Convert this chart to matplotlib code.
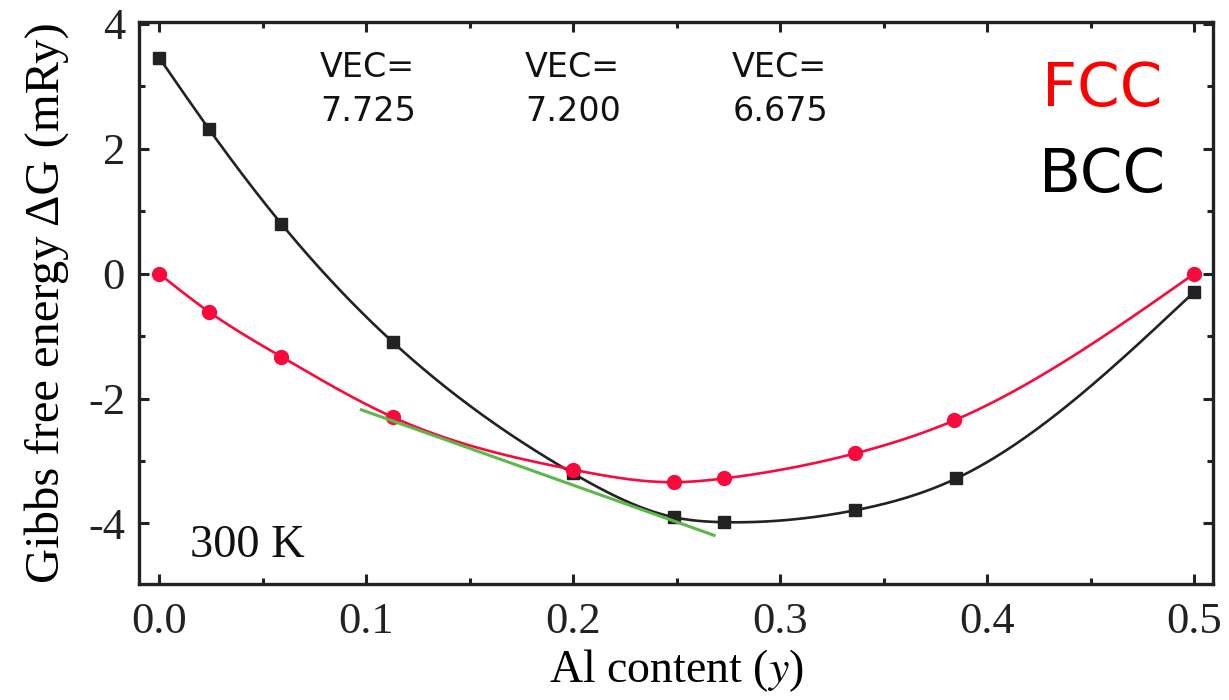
import numpy as np
import matplotlib
matplotlib.use("Agg")
import matplotlib.pyplot as plt
from matplotlib.ticker import MultipleLocator, FormatStrFormatter

# ---- data ----
fcc_x = [0.0, 0.024, 0.059, 0.113, 0.200, 0.2485, 0.2727, 0.336, 0.384, 0.500]
fcc_g = [0.0, -0.61, -1.33, -2.30, -3.14, -3.34, -3.28, -2.88, -2.35, 0.0]
bcc_x = [0.0, 0.024, 0.059, 0.113, 0.200, 0.2485, 0.2727, 0.336, 0.385, 0.500]
bcc_g = [3.46, 2.32, 0.80, -1.10, -3.20, -3.90, -3.98, -3.79, -3.28, -0.29]
tangent_x = [0.0977, 0.268]
tangent_g = [-2.18, -4.19]
vec_x = [0.0778, 0.1768, 0.2768]
vec_labels = ["VEC=\n7.725", "VEC=\n7.200", "VEC=\n6.675"]


def natural_spline(x, y, n=400):
    x = np.asarray(x, float)
    y = np.asarray(y, float)
    m = len(x)
    h = np.diff(x)
    A = np.zeros((m, m))
    b = np.zeros(m)
    A[0, 0] = 1.0
    A[-1, -1] = 1.0
    for i in range(1, m - 1):
        A[i, i - 1] = h[i - 1]
        A[i, i] = 2 * (h[i - 1] + h[i])
        A[i, i + 1] = h[i]
        b[i] = 3 * ((y[i + 1] - y[i]) / h[i] - (y[i] - y[i - 1]) / h[i - 1])
    c = np.linalg.solve(A, b)
    bb = (np.diff(y) / h) - h * (2 * c[:-1] + c[1:]) / 3
    d = np.diff(c) / (3 * h)
    xs = np.linspace(x[0], x[-1], n)
    idx = np.clip(np.searchsorted(x, xs) - 1, 0, m - 2)
    dx = xs - x[idx]
    ys = y[idx] + bb[idx] * dx + c[idx] * dx ** 2 + d[idx] * dx ** 3
    return xs, ys


red = "#fa0a3c"
black = "#222222"
green = "#5cb84a"

fig = plt.figure(figsize=(12.29, 7.0), dpi=100)
ax = fig.add_axes([0.1131, 0.1657, 0.8739, 0.8029])

xs, ys = natural_spline(bcc_x, bcc_g)
ax.plot(xs, ys, color=black, lw=1.9, zorder=2)
ax.plot(bcc_x, bcc_g, ls="none", marker="s", ms=8.5, color=black, zorder=3)

xs, ys = natural_spline(fcc_x, fcc_g)
ax.plot(xs, ys, color=red, lw=1.9, zorder=4)
ax.plot(fcc_x, fcc_g, ls="none", marker="o", ms=10, color=red, zorder=5)

ax.plot(tangent_x, tangent_g, color=green, lw=2.2, zorder=6)

ax.set_xlim(-0.0097, 0.509)
ax.set_ylim(-4.97, 4.03)
ax.xaxis.set_major_locator(MultipleLocator(0.1))
ax.xaxis.set_minor_locator(MultipleLocator(0.05))
ax.yaxis.set_major_locator(MultipleLocator(2))
ax.yaxis.set_minor_locator(MultipleLocator(1))
ax.xaxis.set_major_formatter(FormatStrFormatter("%.1f"))
ax.yaxis.set_major_formatter(FormatStrFormatter("%d"))

for s in ax.spines.values():
    s.set_linewidth(2.4)
    s.set_color("#222222")
ax.tick_params(which="both", direction="in", top=True, right=True,
               width=2.2, color="#222222")
ax.tick_params(which="major", length=7)
ax.tick_params(which="minor", length=4)
ax.tick_params(axis="x", which="major", pad=13)
ax.tick_params(axis="y", which="major", pad=10)

serif = ["Liberation Serif", "DejaVu Serif"]
for lab in ax.get_xticklabels() + ax.get_yticklabels():
    lab.set_fontfamily(serif)
    lab.set_fontsize(32)
    lab.set_color("#222222")

ax.set_xlabel("Al content ($\\it{y}$)", fontsize=33, family=serif, labelpad=4)
ax.xaxis.label.set_math_fontfamily("stix")
ax.set_ylabel("Gibbs free energy ΔG (mRy)", fontsize=35, family=serif, labelpad=14)

ax.text(0.015, -4.535, "300 K", fontsize=33.5, family=serif, color="#111111",
        ha="left", va="baseline")

for vx, vl in zip(vec_x, vec_labels):
    ax.text(vx, 3.56, vl, fontsize=24, family="DejaVu Sans", ha="left",
            va="top", linespacing=1.4, color="#111111")

ax.text(0.4845, 2.68, "FCC", fontsize=44, family="DejaVu Sans", color="#ff0000",
        ha="right", va="baseline")
ax.text(0.486, 1.30, "BCC", fontsize=44, family="DejaVu Sans", color="black",
        ha="right", va="baseline")

fig.savefig("out.png", dpi=100)
